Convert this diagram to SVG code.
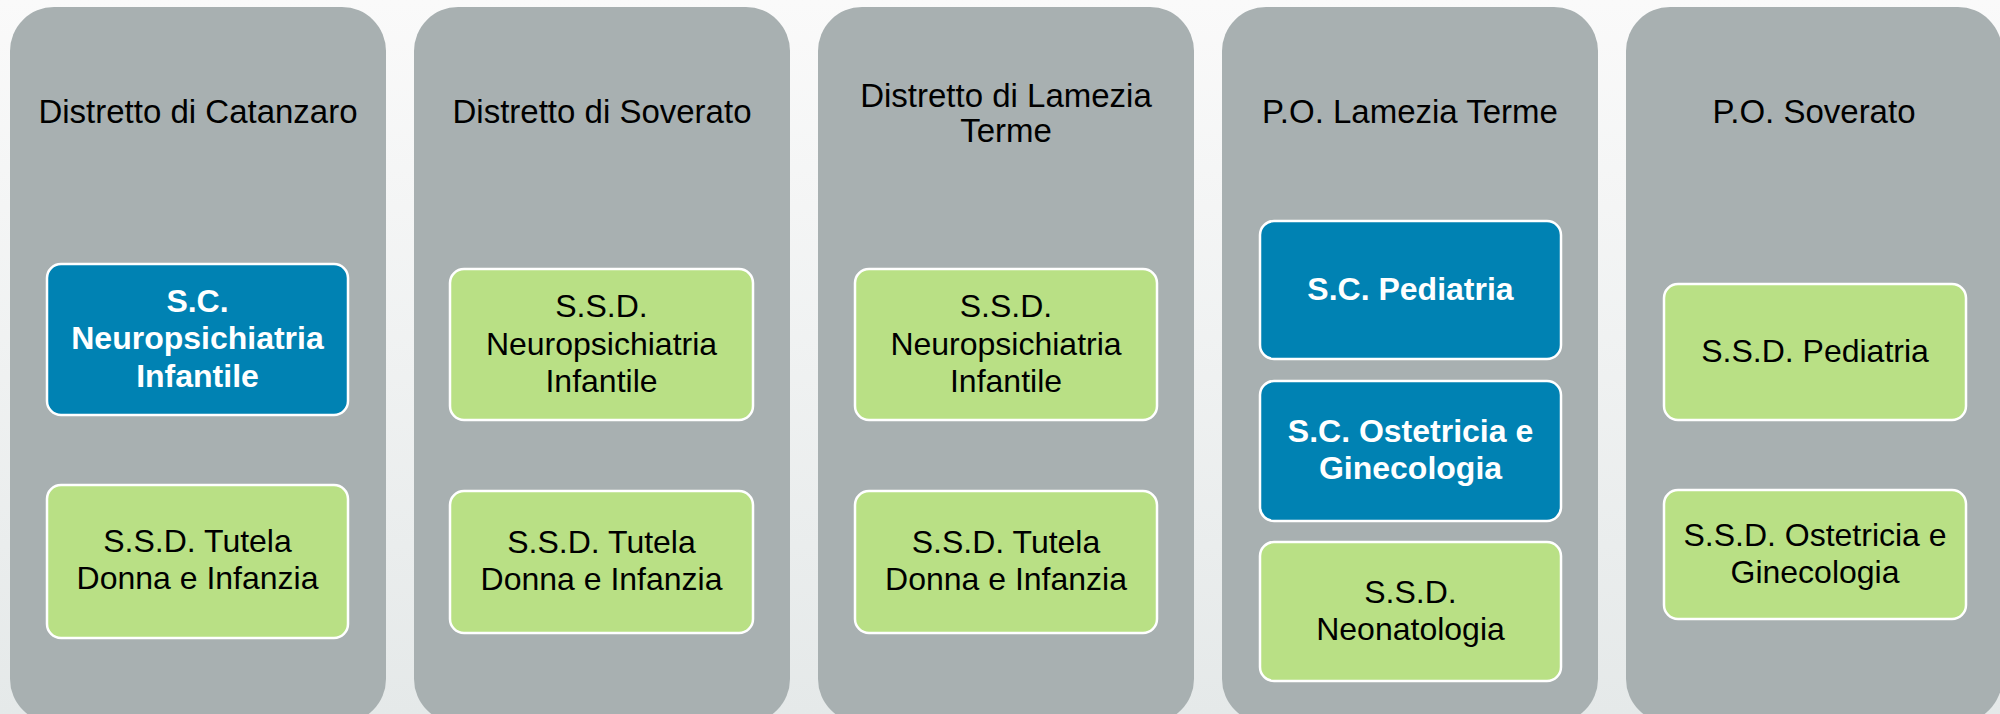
<svg xmlns="http://www.w3.org/2000/svg" width="2000" height="714" viewBox="0 0 2000 714">
<defs>
<linearGradient id="bg" x1="0" y1="0" x2="0" y2="1">
<stop offset="0" stop-color="#fafafa"/>
<stop offset="1" stop-color="#e5e9e9"/>
</linearGradient>
<style>
.col{fill:#a8b0b1}
.blue{fill:#0082b3;stroke:#ffffff;stroke-width:2.5}
.green{fill:#b9e085;stroke:#ffffff;stroke-width:2.5}
text{font-family:"Liberation Sans",Arial,sans-serif;font-size:32px;text-anchor:middle}
.h{fill:#000000;font-size:33px}
.bt{fill:#ffffff;font-weight:bold}
.gt{fill:#000000}
</style>
</defs>
<rect x="0" y="0" width="2000" height="714" fill="url(#bg)"/>
<g id="connectors"/>
<g id="col1">
<rect class="col" x="10" y="7" width="376" height="716" rx="44"/>
<text class="h" x="198" y="123">Distretto di Catanzaro</text>
</g>
<g id="col2">
<rect class="col" x="414" y="7" width="376" height="716" rx="44"/>
<text class="h" x="602" y="123">Distretto di Soverato</text>
</g>
<g id="col3">
<rect class="col" x="818" y="7" width="376" height="716" rx="44"/>
<text class="h" x="1006" y="107">Distretto di Lamezia</text>
<text class="h" x="1006" y="142">Terme</text>
</g>
<g id="col4">
<rect class="col" x="1222" y="7" width="376" height="716" rx="44"/>
<text class="h" x="1410" y="123">P.O. Lamezia Terme</text>
</g>
<g id="col5">
<rect class="col" x="1626" y="7" width="376" height="716" rx="44"/>
<text class="h" x="1814" y="123">P.O. Soverato</text>
</g>
<g id="n1">
<rect class="blue" x="47" y="264" width="301" height="151" rx="14"/>
<text class="bt" x="197.5" y="312">S.C.</text>
<text class="bt" x="197.5" y="349">Neuropsichiatria</text>
<text class="bt" x="197.5" y="387">Infantile</text>
</g>
<g id="n2">
<rect class="green" x="47" y="485" width="301" height="153" rx="14"/>
<text class="gt" x="197.5" y="552">S.S.D. Tutela</text>
<text class="gt" x="197.5" y="589">Donna e Infanzia</text>
</g>
<g id="n3">
<rect class="green" x="450" y="269" width="303" height="151" rx="14"/>
<text class="gt" x="601.5" y="317">S.S.D.</text>
<text class="gt" x="601.5" y="355">Neuropsichiatria</text>
<text class="gt" x="601.5" y="392">Infantile</text>
</g>
<g id="n4">
<rect class="green" x="450" y="491" width="303" height="142" rx="14"/>
<text class="gt" x="601.5" y="553">S.S.D. Tutela</text>
<text class="gt" x="601.5" y="590">Donna e Infanzia</text>
</g>
<g id="n5">
<rect class="green" x="855" y="269" width="302" height="151" rx="14"/>
<text class="gt" x="1006" y="317">S.S.D.</text>
<text class="gt" x="1006" y="355">Neuropsichiatria</text>
<text class="gt" x="1006" y="392">Infantile</text>
</g>
<g id="n6">
<rect class="green" x="855" y="491" width="302" height="142" rx="14"/>
<text class="gt" x="1006" y="553">S.S.D. Tutela</text>
<text class="gt" x="1006" y="590">Donna e Infanzia</text>
</g>
<g id="n7">
<rect class="blue" x="1260" y="221" width="301" height="138" rx="14"/>
<text class="bt" x="1410.5" y="300">S.C. Pediatria</text>
</g>
<g id="n8">
<rect class="blue" x="1260" y="381" width="301" height="140" rx="14"/>
<text class="bt" x="1410.5" y="442">S.C. Ostetricia e</text>
<text class="bt" x="1410.5" y="479">Ginecologia</text>
</g>
<g id="n9">
<rect class="green" x="1260" y="542" width="301" height="139" rx="14"/>
<text class="gt" x="1410.5" y="603">S.S.D.</text>
<text class="gt" x="1410.5" y="640">Neonatologia</text>
</g>
<g id="n10">
<rect class="green" x="1664" y="284" width="302" height="136" rx="14"/>
<text class="gt" x="1815" y="362">S.S.D. Pediatria</text>
</g>
<g id="n11">
<rect class="green" x="1664" y="490" width="302" height="129" rx="14"/>
<text class="gt" x="1815" y="546">S.S.D. Ostetricia e</text>
<text class="gt" x="1815" y="583">Ginecologia</text>
</g>
</svg>
